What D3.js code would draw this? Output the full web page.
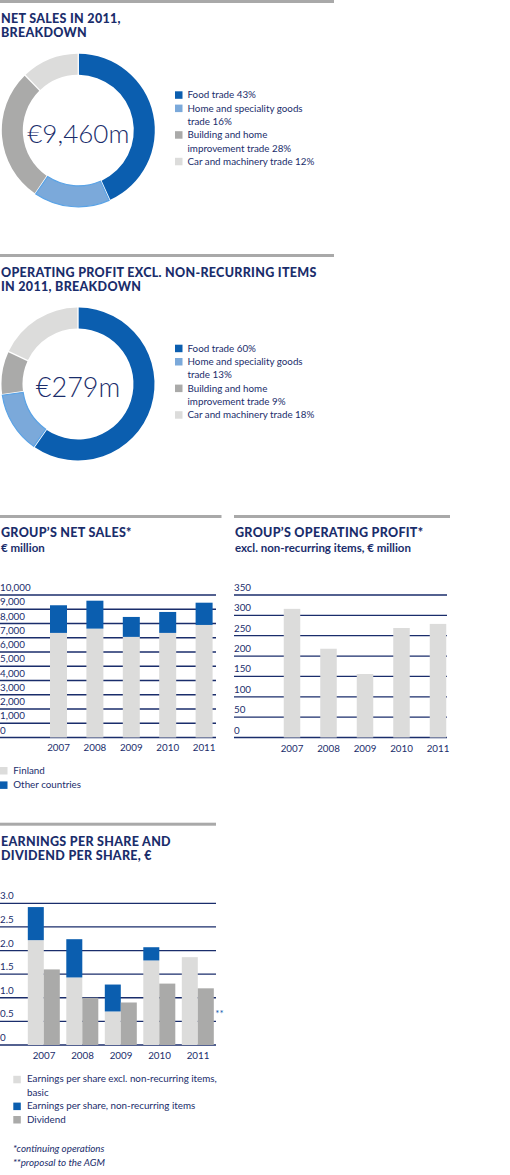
<!DOCTYPE html>
<html>
<head>
<meta charset="utf-8">
<script src="https://cdn.jsdelivr.net/npm/d3@7"></script>
<style>
  html, body { margin: 0; padding: 0; background: #fff; }
  svg { display: block; }
  .title { font-family: Lato, "Open Sans", sans-serif; font-weight: 900; fill: #1a2d6b; font-size: 12.5px; letter-spacing: 0.3px; }
  .sub { font-family: Lato, "Open Sans", sans-serif; font-weight: 700; fill: #1a2d6b; font-size: 11.5px; }
  .lbl { font-family: Lato, "Open Sans", sans-serif; fill: #1a2d6b; font-size: 9.8px; }
  .center { font-family: Lato, "Open Sans", sans-serif; font-weight: 300; fill: #1a2d6b; }
</style>
</head>
<body>
<svg id="chart" width="510" height="1175"></svg>
<script>
// ---------- DATA ----------
const segmentColors = ["#0b5eaf", "#7ba9da", "#aaaaa9", "#dcdcdb"];
const salesShares = [43, 16, 28, 12];
const salesTotal = "€9,460m";
const salesLegend = [["Food trade 43%"], ["Home and speciality goods", "trade 16%"], ["Building and home", "improvement trade 28%"], ["Car and machinery trade 12%"]];
const profitShares = [60, 13, 9, 18];
const profitTotal = "€279m";
const profitLegend = [["Food trade 60%"], ["Home and speciality goods", "trade 13%"], ["Building and home", "improvement trade 9%"], ["Car and machinery trade 18%"]];

const years = ["2007", "2008", "2009", "2010", "2011"];
const salesFinland = [7340, 7640, 7060, 7340, 7900];
const salesOther = [1940, 1960, 1400, 1470, 1560];
const salesTicks = [0, 1000, 2000, 3000, 4000, 5000, 6000, 7000, 8000, 9000, 10000];

const opProfit = [316, 218, 156, 269, 279];
const opTicks = [0, 50, 100, 150, 200, 250, 300, 350];

const epsExcl = [2.22, 1.43, 0.71, 1.79, 1.86];
const epsNonRec = [0.70, 0.81, 0.57, 0.28, 0];
const dividend = [1.60, 1.00, 0.90, 1.30, 1.20];
const epsTicks = [0, 0.5, 1.0, 1.5, 2.0, 2.5, 3.0];

// ---------- HELPERS ----------
const svg = d3.select("#chart");
const NAVY = "#1a2d6b", RULE = "#a9a9a9", LIGHT = "#dcdcdb", BLUE = "#0b5eaf", GRAY = "#aaaaa9";

function rule(x0, x1, y) {
  svg.append("rect").attr("x", x0).attr("y", y).attr("width", x1 - x0).attr("height", 3).attr("fill", RULE);
}
function title(x, ys, lines, cls) {
  lines.forEach((t, i) => svg.append("text").attr("class", cls[i] || cls[0]).attr("x", x).attr("y", ys[i]).text(t));
}

function donut(cx, cy, shares, total, fontSize, legend, legX, legY) {
  const g = svg.append("g").attr("transform", `translate(${cx},${cy})`);
  const pie = d3.pie().sort(null).padAngle(0.014).value(d => d);
  const arc = d3.arc().innerRadius(55.5).outerRadius(76.5);
  g.selectAll("path").data(pie(shares)).join("path")
    .attr("d", arc)
    .attr("fill", (d, i) => segmentColors[i])
    .attr("stroke", (d, i) => i === 1 ? "#5aa3e6" : "none")
    .attr("stroke-width", 1.2);
  g.append("text").attr("class", "center").attr("text-anchor", "middle")
    .attr("y", 12.5).style("font-size", fontSize + "px").text(total);
  // legend
  const lh = 13.3;
  let line = 0;
  legend.forEach((lines, i) => {
    const by = legY + line * lh;
    svg.append("rect").attr("x", legX).attr("y", by - 7).attr("width", 7.5).attr("height", 7.5).attr("fill", segmentColors[i]);
    lines.forEach((t, j) => svg.append("text").attr("class", "lbl").attr("x", legX + 12.5).attr("y", by + j * lh).text(t));
    line += lines.length;
  });
}

function grid(x0, x1, y, ticks, fmt) {
  const g = svg.append("g");
  g.selectAll("line").data(ticks).join("line")
    .attr("x1", x0).attr("x2", x1)
    .attr("y1", d => y(d)).attr("y2", d => y(d))
    .attr("stroke", NAVY).attr("stroke-width", 1.3);
  g.selectAll("text").data(ticks).join("text").attr("class", "lbl")
    .attr("x", x0).attr("y", d => y(d) - 4).text(fmt);
}

function yearAxis(x, yBase) {
  svg.append("g").selectAll("text").data(years).join("text").attr("class", "lbl")
    .attr("text-anchor", "middle").attr("x", d => x(d)).attr("y", yBase).text(d => d);
}

// ---------- DONUT 1 ----------
rule(0, 334, 0);
title(1, [23.3, 36.7], ["NET SALES IN 2011,", "BREAKDOWN"], ["title"]);
donut(78.3, 130.3, salesShares, salesTotal, 26, salesLegend, 175, 98.3);

// ---------- DONUT 2 ----------
rule(0, 334, 254);
title(1, [276.7, 290.7], ["OPERATING PROFIT EXCL. NON-RECURRING ITEMS", "IN 2011, BREAKDOWN"], ["title"]);
donut(78, 384, profitShares, profitTotal, 27, profitLegend, 175, 351.7);

// ---------- NET SALES ----------
rule(0, 221.5, 515);
title(1, [537.3, 552.3], ["GROUP’S NET SALES*", "€ million"], ["title", "sub"]);
{
  const y = d3.scaleLinear().domain([0, 10000]).range([737.5, 595]);
  grid(0, 216, y, salesTicks, d => d3.format(",")(d));
  const x = d3.scalePoint().domain(years).range([40.3, 222.3]).padding(0.5);
  const bw = 17;
  const g = svg.append("g");
  g.selectAll(".fin").data(years).join("rect")
    .attr("x", d => x(d) - bw / 2).attr("width", bw)
    .attr("y", (d, i) => y(salesFinland[i])).attr("height", (d, i) => y(0) - y(salesFinland[i]))
    .attr("fill", LIGHT);
  g.selectAll(".oth").data(years).join("rect")
    .attr("x", d => x(d) - bw / 2).attr("width", bw)
    .attr("y", (d, i) => y(salesFinland[i] + salesOther[i]))
    .attr("height", (d, i) => y(salesFinland[i]) - y(salesFinland[i] + salesOther[i]))
    .attr("fill", BLUE);
  yearAxis(x, 750.7);
  // legend
  [["Finland", LIGHT], ["Other countries", BLUE]].forEach(([t, c], i) => {
    svg.append("rect").attr("x", 0).attr("y", 767 + i * 14.4).attr("width", 7.5).attr("height", 7.5).attr("fill", c);
    svg.append("text").attr("class", "lbl").attr("x", 13.3).attr("y", 773.5 + i * 14.4).text(t);
  });
}

// ---------- OPERATING PROFIT ----------
rule(234, 450, 515);
title(235, [537.3, 552.3], ["GROUP’S OPERATING PROFIT*", "excl. non-recurring items, € million"], ["title", "sub"]);
{
  const y = d3.scaleLinear().domain([0, 350]).range([737.5, 595]);
  grid(234, 447, y, opTicks, d => d);
  const x = d3.scalePoint().domain(years).range([273.75, 456.25]).padding(0.5);
  const bw = 16.5;
  svg.append("g").selectAll("rect").data(years).join("rect")
    .attr("x", d => x(d) - bw / 2).attr("width", bw)
    .attr("y", (d, i) => y(opProfit[i])).attr("height", (d, i) => y(0) - y(opProfit[i]))
    .attr("fill", LIGHT);
  yearAxis(x, 751.5);
}

// ---------- EPS ----------
rule(0, 216, 822.7);
title(1, [845.7, 860], ["EARNINGS PER SHARE AND", "DIVIDEND PER SHARE, €"], ["title"]);
{
  const y = d3.scaleLinear().domain([0, 3]).range([1045, 903.3]);
  grid(0, 216, y, epsTicks, d => d === 0 ? "0" : d3.format(".1f")(d));
  const x = d3.scalePoint().domain(years).range([24.75, 217.25]).padding(0.5);
  const sub = d3.scaleBand().domain(["eps", "div"]).range([-16.2, 15.8]);
  const g = svg.append("g");
  g.selectAll(".e1").data(years).join("rect")
    .attr("x", d => x(d) + sub("eps")).attr("width", sub.bandwidth())
    .attr("y", (d, i) => y(epsExcl[i])).attr("height", (d, i) => y(0) - y(epsExcl[i]))
    .attr("fill", LIGHT);
  g.selectAll(".e2").data(years).join("rect")
    .attr("x", d => x(d) + sub("eps")).attr("width", sub.bandwidth())
    .attr("y", (d, i) => y(epsExcl[i] + epsNonRec[i]))
    .attr("height", (d, i) => y(epsExcl[i]) - y(epsExcl[i] + epsNonRec[i]))
    .attr("fill", BLUE);
  g.selectAll(".dv").data(years).join("rect")
    .attr("x", d => x(d) + sub("div")).attr("width", sub.bandwidth())
    .attr("y", (d, i) => y(dividend[i])).attr("height", (d, i) => y(0) - y(dividend[i]))
    .attr("fill", GRAY);
  yearAxis(x, 1059);
  // ** annotation next to 2011 dividend
  svg.append("text").attr("class", "lbl").style("fill", BLUE)
    .attr("x", x("2011") + sub("div") + sub.bandwidth() + 1.5).attr("y", y(0.6)).text("**");
  // legend
  const items = [[["Earnings per share excl. non-recurring items,", "basic"], LIGHT], [["Earnings per share, non-recurring items"], BLUE], [["Dividend"], GRAY]];
  let line = 0;
  items.forEach(([lines, c]) => {
    const by = 1082.3 + line * 13.4;
    svg.append("rect").attr("x", 13.3).attr("y", by - 6.5).attr("width", 7.5).attr("height", 7.5).attr("fill", c);
    lines.forEach((t, j) => svg.append("text").attr("class", "lbl").attr("x", 27).attr("y", by + j * 13.4).text(t));
    line += lines.length;
  });
  ["*continuing operations", "**proposal to the AGM"].forEach((t, i) =>
    svg.append("text").attr("class", "lbl").style("font-style", "italic")
      .attr("x", 13).attr("y", 1152.3 + i * 13.4).text(t));
}
</script>
</body>
</html>
